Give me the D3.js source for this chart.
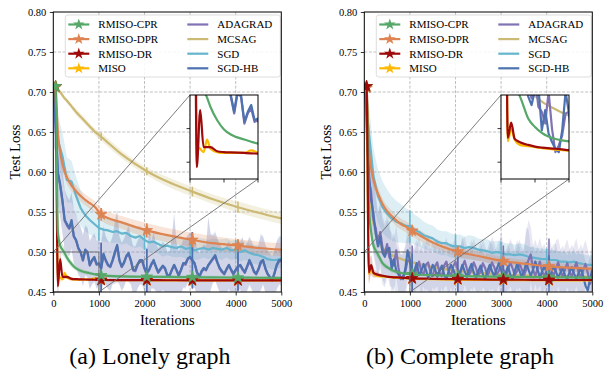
<!DOCTYPE html>
<html>
<head>
<meta charset="utf-8">
<script src="https://cdn.jsdelivr.net/npm/d3@7"></script>
<style>
  body { margin: 0; background: #fff; }
  text { font-family: "Liberation Serif", "Times New Roman", "DejaVu Serif", serif; fill: #000; }
</style>
</head>
<body>
<svg id="chart" width="604" height="379"></svg>
<script>
// ---- data -------------------------------------------------------------
const xTicks = [0, 1000, 2000, 3000, 4000, 5000];
const yTicks = [0.45, 0.50, 0.55, 0.60, 0.65, 0.70, 0.75, 0.80];
const markIters = [50, 1050, 2050, 3050, 4050];

const fineIters = d3.range(0, 5001, 50);      // noisy runs, logged every 50 its
const sgdIters = d3.range(0, 5001, 100);
const coarseIters = [0, 50, 100, 150, 200, 250, 300, 400, 500, 600, 800, 900,
  1050, 1500, 2050, 2500, 3050, 3500, 4050, 4500, 5000];

// (a) Lonely graph
const lonelyCpr = [0.710, 0.707, 0.525, 0.508, 0.503, 0.4985, 0.493, 0.485, 0.4795, 0.4765, 0.4735,
  0.4722, 0.4707, 0.4695, 0.4690, 0.4688, 0.4685, 0.4683, 0.4680, 0.4678, 0.4675];
const lonelyCprStd = [0.002, 0.003, 0.015, 0.01, 0.007, 0.006, 0.005, 0.004, 0.003, 0.003, 0.002,
  0.002, 0.002, 0.002, 0.002, 0.002, 0.002, 0.002, 0.002, 0.002, 0.002];
const lonelyDpr = [0.710, 0.706, 0.650, 0.625, 0.610, 0.600, 0.593, 0.583, 0.576, 0.570, 0.561,
  0.557, 0.547, 0.537, 0.527, 0.521, 0.515, 0.511, 0.508, 0.505, 0.503];
const lonelyDprStd = [0.002, 0.003, 0.012, 0.01, 0.009, 0.008, 0.008, 0.007, 0.007, 0.007, 0.007,
  0.007, 0.008, 0.008, 0.009, 0.009, 0.009, 0.009, 0.008, 0.008, 0.008];
const lonelyDr = [0.710, 0.707, 0.457, 0.491, 0.469, 0.469, 0.469, 0.4665, 0.466, 0.4658, 0.4655,
  0.4653, 0.465, 0.4649, 0.4648, 0.4647, 0.4646, 0.4646, 0.4645, 0.4645, 0.4645];
const lonelyDrStd = [0.002, 0.004, 0.012, 0.01, 0.004, 0.003, 0.002, 0.002, 0.001, 0.001, 0.001,
  0.001, 0.001, 0.001, 0.001, 0.001, 0.001, 0.001, 0.001, 0.001, 0.001];
const lonelyMiso = [0.710, 0.707, 0.470, 0.468, 0.466, 0.4735, 0.468, 0.466, 0.4655, 0.4655, 0.4655,
  0.467, 0.465, 0.4648, 0.4647, 0.4646, 0.4645, 0.4645, 0.4644, 0.4644, 0.4644];
const lonelyMisoStd = [0.002, 0.004, 0.008, 0.005, 0.003, 0.003, 0.002, 0.002, 0.001, 0.001, 0.001,
  0.001, 0.001, 0.001, 0.001, 0.001, 0.001, 0.001, 0.001, 0.001, 0.001];
const lonelyMcsag = [0.710, 0.707, 0.703, 0.700, 0.696, 0.692, 0.689, 0.682, 0.675, 0.669, 0.657,
  0.651, 0.644, 0.622, 0.601, 0.588, 0.5755, 0.566, 0.556, 0.549, 0.542];
const lonelyMcsagStd = [0.001, 0.002, 0.002, 0.003, 0.003, 0.003, 0.003, 0.003, 0.004, 0.004, 0.004,
  0.004, 0.005, 0.005, 0.005, 0.006, 0.006, 0.006, 0.007, 0.007, 0.007];
const lonelySgd = [0.710, 0.640, 0.620, 0.590, 0.588, 0.570, 0.555, 0.546, 0.540, 0.535,
  0.530, 0.528, 0.527, 0.525, 0.526, 0.523, 0.524, 0.520, 0.518, 0.520,
  0.515, 0.512, 0.513, 0.510, 0.507, 0.508, 0.506, 0.505, 0.507, 0.504,
  0.505, 0.502, 0.504, 0.505, 0.503, 0.505, 0.504, 0.503, 0.505, 0.502,
  0.503, 0.500, 0.502, 0.499, 0.497, 0.496, 0.494, 0.491, 0.490, 0.490, 0.492];
const lonelySgdStd = [0.003, 0.03, 0.03, 0.028, 0.026, 0.024, 0.022, 0.02, 0.018, 0.017,
  0.016, 0.015, 0.015, 0.014, 0.014, 0.014, 0.013, 0.013, 0.013, 0.013,
  0.012, 0.013, 0.012, 0.012, 0.013, 0.012, 0.012, 0.012, 0.013, 0.012,
  0.012, 0.012, 0.013, 0.012, 0.012, 0.012, 0.012, 0.013, 0.012, 0.012,
  0.012, 0.012, 0.012, 0.011, 0.012, 0.012, 0.011, 0.011, 0.012, 0.011, 0.011];
const lonelySgdHb = [0.710, 0.660, 0.600, 0.585, 0.565, 0.540, 0.535, 0.530, 0.540, 0.520,
  0.515, 0.505, 0.500, 0.490, 0.503, 0.500, 0.484, 0.490, 0.494, 0.485,
  0.486, 0.480, 0.498, 0.490, 0.484, 0.482, 0.490, 0.500, 0.509, 0.490,
  0.482, 0.487, 0.495, 0.499, 0.490, 0.478, 0.4775, 0.485, 0.490, 0.490,
  0.480, 0.474, 0.478, 0.485, 0.490, 0.482, 0.475, 0.479, 0.483, 0.480,
  0.471, 0.471, 0.478, 0.484, 0.478, 0.471, 0.478, 0.486, 0.486, 0.492,
  0.494, 0.490, 0.486, 0.475, 0.469, 0.476, 0.480, 0.478, 0.484, 0.488,
  0.492, 0.496, 0.487, 0.480, 0.476, 0.473, 0.479, 0.484, 0.478, 0.473,
  0.478, 0.482, 0.484, 0.479, 0.475, 0.482, 0.490, 0.484, 0.476, 0.473,
  0.479, 0.488, 0.490, 0.480, 0.473, 0.469, 0.465, 0.474, 0.484, 0.490, 0.490];
const lonelyAdagrad = [0.709, 0.657, 0.598, 0.583, 0.563, 0.539, 0.533, 0.529, 0.538, 0.519,
  0.514, 0.504, 0.499, 0.489, 0.501, 0.499, 0.483, 0.489, 0.492, 0.484,
  0.485, 0.479, 0.496, 0.489, 0.483, 0.481, 0.489, 0.498, 0.507, 0.489,
  0.481, 0.486, 0.494, 0.497, 0.489, 0.477, 0.476, 0.484, 0.489, 0.488,
  0.479, 0.473, 0.477, 0.484, 0.488, 0.481, 0.474, 0.478, 0.482, 0.479,
  0.470, 0.470, 0.477, 0.483, 0.477, 0.470, 0.477, 0.485, 0.484, 0.491,
  0.493, 0.489, 0.485, 0.474, 0.468, 0.475, 0.479, 0.477, 0.483, 0.487,
  0.491, 0.494, 0.486, 0.479, 0.475, 0.472, 0.478, 0.483, 0.477, 0.472,
  0.477, 0.481, 0.483, 0.478, 0.474, 0.481, 0.488, 0.483, 0.475, 0.472,
  0.478, 0.486, 0.489, 0.479, 0.472, 0.468, 0.464, 0.473, 0.483, 0.488, 0.489];
const lonelyNoisyStd = [0.003, 0.03, 0.04, 0.04, 0.04, 0.038, 0.036, 0.035, 0.035, 0.034,
  0.033, 0.033, 0.032, 0.032, 0.031, 0.031, 0.03, 0.03, 0.03, 0.03,
  0.03, 0.032, 0.035, 0.03, 0.03, 0.03, 0.03, 0.038, 0.045, 0.03,
  0.03, 0.03, 0.03, 0.035, 0.03, 0.03, 0.03, 0.03, 0.03, 0.03,
  0.03, 0.03, 0.045, 0.03, 0.035, 0.03, 0.03, 0.03, 0.03, 0.03,
  0.03, 0.03, 0.04, 0.065, 0.035, 0.03, 0.03, 0.03, 0.03, 0.03,
  0.03, 0.035, 0.03, 0.03, 0.03, 0.03, 0.03, 0.03, 0.06, 0.035,
  0.03, 0.03, 0.03, 0.03, 0.03, 0.03, 0.03, 0.03, 0.03, 0.03,
  0.03, 0.03, 0.03, 0.04, 0.03, 0.03, 0.03, 0.03, 0.03, 0.03,
  0.03, 0.035, 0.03, 0.03, 0.03, 0.03, 0.03, 0.03, 0.03, 0.03, 0.03];

// (b) Complete graph
const completeCpr = [0.710, 0.707, 0.560, 0.525, 0.508, 0.502, 0.497, 0.486, 0.481, 0.4775, 0.4738,
  0.473, 0.4722, 0.471, 0.470, 0.4695, 0.469, 0.4688, 0.4685, 0.4683, 0.468];
const completeCprStd = [0.002, 0.003, 0.015, 0.01, 0.007, 0.006, 0.005, 0.004, 0.003, 0.003, 0.002,
  0.002, 0.002, 0.002, 0.002, 0.002, 0.002, 0.002, 0.002, 0.002, 0.002];
const completeDpr = [0.710, 0.705, 0.628, 0.605, 0.590, 0.580, 0.573, 0.560, 0.551, 0.545, 0.535,
  0.532, 0.5265, 0.512, 0.5005, 0.495, 0.4885, 0.4855, 0.482, 0.4805, 0.479];
const completeDprStd = [0.002, 0.003, 0.012, 0.01, 0.009, 0.008, 0.008, 0.007, 0.007, 0.007, 0.007,
  0.007, 0.007, 0.006, 0.006, 0.006, 0.005, 0.005, 0.005, 0.005, 0.005];
const completeDr = [0.710, 0.707, 0.4745, 0.4835, 0.474, 0.4725, 0.4715, 0.4703, 0.4693, 0.4687, 0.468,
  0.4676, 0.467, 0.4665, 0.466, 0.4657, 0.4655, 0.4653, 0.465, 0.465, 0.465];
const completeDrStd = [0.002, 0.004, 0.014, 0.012, 0.006, 0.004, 0.003, 0.002, 0.001, 0.001, 0.001,
  0.001, 0.001, 0.001, 0.001, 0.001, 0.001, 0.001, 0.001, 0.001, 0.001];
const completeMiso = [0.710, 0.707, 0.4725, 0.480, 0.4735, 0.471, 0.470, 0.4695, 0.469, 0.4683, 0.4675,
  0.4672, 0.4668, 0.466, 0.4655, 0.4652, 0.465, 0.4648, 0.4646, 0.4645, 0.4645];
const completeMisoStd = [0.002, 0.004, 0.008, 0.006, 0.003, 0.002, 0.002, 0.002, 0.001, 0.001, 0.001,
  0.001, 0.001, 0.001, 0.001, 0.001, 0.001, 0.001, 0.001, 0.001, 0.001];
const completeMcsag = [0.710, 0.660, 0.590, 0.555, 0.536, 0.523, 0.513, 0.505, 0.4995, 0.496, 0.4915,
  0.4895, 0.487, 0.481, 0.4765, 0.4738, 0.4718, 0.4706, 0.4698, 0.4692, 0.469];
const completeMcsagStd = [0.001, 0.004, 0.004, 0.004, 0.003, 0.003, 0.003, 0.003, 0.003, 0.003, 0.002,
  0.002, 0.002, 0.002, 0.002, 0.002, 0.002, 0.002, 0.002, 0.002, 0.002];
const completeSgd = [0.710, 0.650, 0.595, 0.570, 0.556, 0.548, 0.542, 0.538, 0.536, 0.533,
  0.532, 0.528, 0.525, 0.521, 0.519, 0.517, 0.513, 0.511, 0.511, 0.508,
  0.507, 0.507, 0.505, 0.506, 0.505, 0.503, 0.502, 0.501, 0.499, 0.500,
  0.499, 0.497, 0.497, 0.496, 0.497, 0.496, 0.494, 0.493, 0.492, 0.491,
  0.491, 0.490, 0.490, 0.488, 0.488, 0.487, 0.488, 0.486, 0.485, 0.484, 0.484];
const completeSgdStd = [0.003, 0.035, 0.035, 0.033, 0.032, 0.03, 0.028, 0.026, 0.024, 0.022,
  0.02, 0.019, 0.018, 0.017, 0.016, 0.016, 0.015, 0.015, 0.015, 0.015,
  0.015, 0.015, 0.014, 0.015, 0.015, 0.014, 0.014, 0.015, 0.014, 0.014,
  0.014, 0.014, 0.014, 0.013, 0.014, 0.014, 0.013, 0.013, 0.013, 0.013,
  0.013, 0.013, 0.012, 0.012, 0.012, 0.012, 0.012, 0.012, 0.012, 0.012, 0.012];
const completeSgdHb = [0.710, 0.680, 0.600, 0.565, 0.548, 0.523, 0.507, 0.519, 0.499, 0.494,
  0.503, 0.505, 0.479, 0.491, 0.477, 0.472, 0.468, 0.466, 0.479, 0.502,
  0.489, 0.468, 0.477, 0.486, 0.471, 0.476, 0.485, 0.478, 0.468, 0.474,
  0.484, 0.479, 0.469, 0.476, 0.483, 0.472, 0.466, 0.476, 0.484, 0.478,
  0.470, 0.465, 0.475, 0.484, 0.476, 0.469, 0.478, 0.485, 0.474, 0.468,
  0.476, 0.483, 0.472, 0.466, 0.476, 0.484, 0.476, 0.470, 0.478, 0.486,
  0.478, 0.466, 0.474, 0.482, 0.472, 0.466, 0.476, 0.485, 0.477, 0.469,
  0.476, 0.486, 0.478, 0.470, 0.478, 0.488, 0.478, 0.468, 0.476, 0.482,
  0.473, 0.466, 0.474, 0.482, 0.476, 0.468, 0.474, 0.480, 0.471, 0.466,
  0.475, 0.481, 0.473, 0.466, 0.474, 0.480, 0.470, 0.458, 0.452, 0.466, 0.478];
const completeAdagrad = [0.710, 0.670, 0.590, 0.575, 0.540, 0.530, 0.510, 0.525, 0.505, 0.498,
  0.510, 0.493, 0.490, 0.483, 0.502, 0.480, 0.466, 0.470, 0.476, 0.489,
  0.490, 0.478, 0.470, 0.480, 0.488, 0.475, 0.472, 0.484, 0.487, 0.475,
  0.470, 0.482, 0.487, 0.474, 0.470, 0.483, 0.488, 0.476, 0.470, 0.482,
  0.488, 0.477, 0.472, 0.481, 0.489, 0.479, 0.471, 0.478, 0.487, 0.480,
  0.471, 0.476, 0.486, 0.480, 0.470, 0.477, 0.487, 0.481, 0.472, 0.476,
  0.486, 0.478, 0.470, 0.477, 0.487, 0.480, 0.471, 0.476, 0.486, 0.479,
  0.470, 0.478, 0.490, 0.497, 0.478, 0.470, 0.480, 0.488, 0.476, 0.469,
  0.478, 0.487, 0.478, 0.470, 0.479, 0.487, 0.477, 0.469, 0.478, 0.486,
  0.476, 0.469, 0.479, 0.487, 0.475, 0.468, 0.477, 0.485, 0.474, 0.460, 0.470];
const completeNoisyStd = [0.003, 0.03, 0.04, 0.045, 0.045, 0.045, 0.04, 0.04, 0.04, 0.038,
  0.036, 0.035, 0.034, 0.033, 0.032, 0.03, 0.03, 0.03, 0.03, 0.03,
  0.03, 0.03, 0.032, 0.03, 0.03, 0.03, 0.028, 0.03, 0.035, 0.03,
  0.028, 0.028, 0.03, 0.03, 0.028, 0.028, 0.03, 0.03, 0.028, 0.03,
  0.03, 0.028, 0.03, 0.035, 0.03, 0.028, 0.028, 0.03, 0.03, 0.028,
  0.028, 0.03, 0.03, 0.028, 0.028, 0.03, 0.033, 0.03, 0.028, 0.028,
  0.04, 0.03, 0.028, 0.028, 0.03, 0.03, 0.028, 0.03, 0.03, 0.028,
  0.03, 0.045, 0.05, 0.035, 0.03, 0.028, 0.028, 0.03, 0.03, 0.028,
  0.028, 0.03, 0.03, 0.028, 0.035, 0.03, 0.028, 0.028, 0.03, 0.03,
  0.028, 0.028, 0.03, 0.03, 0.028, 0.03, 0.03, 0.03, 0.03, 0.03, 0.03];

const names = ["RMISO-CPR", "RMISO-DPR", "RMISO-DR", "MISO", "ADAGRAD", "MCSAG", "SGD", "SGD-HB"];
const colors = {
  "RMISO-CPR": "#55a868", "RMISO-DPR": "#dd8452", "RMISO-DR": "#9e0a0a", "MISO": "#ffb800",
  "ADAGRAD": "#8172b3", "MCSAG": "#ccb974", "SGD": "#64b5cd", "SGD-HB": "#4c72b0"
};
const bandAlpha = { "ADAGRAD": 0.17, "SGD-HB": 0.15 };
const starred = ["RMISO-CPR", "RMISO-DPR", "RMISO-DR", "MISO"];

// ---- drawing ----------------------------------------------------------
const svg = d3.select("#chart");
const defs = svg.append("defs");
const plotW = 228, plotTop = 12, plotBottom = 292;
const smooth = d3.curveMonotoneX, sharp = d3.curveLinear;

function zip(xs, ys, sds) {
  return xs.map((v, i) => [v, ys[i], sds[i]]);
}

function drawPanel(p) {
  const x = d3.scaleLinear().domain([0, 5000]).range([p.left, p.left + plotW]);
  const y = d3.scaleLinear().domain([0.45, 0.80]).range([plotBottom, plotTop]);
  const g = svg.append("g");

  defs.append("clipPath").attr("id", "clip-" + p.id)
    .append("rect").attr("x", p.left).attr("y", plotTop)
    .attr("width", plotW).attr("height", plotBottom - plotTop);

  // grid
  g.selectAll(".gx").data(xTicks.slice(1, -1)).join("line")
    .attr("x1", d => x(d)).attr("x2", d => x(d))
    .attr("y1", plotTop).attr("y2", plotBottom)
    .attr("stroke", "#b0b0b0").attr("stroke-width", 0.8).attr("stroke-dasharray", "3,1.6");
  g.selectAll(".gy").data(yTicks.slice(1, -1)).join("line")
    .attr("y1", d => y(d)).attr("y2", d => y(d))
    .attr("x1", p.left).attr("x2", p.left + plotW)
    .attr("stroke", "#b0b0b0").attr("stroke-width", 0.8).attr("stroke-dasharray", "3,1.6");

  function drawSeries(target, xs, ys, clipId, full) {
    const layer = target.append("g").attr("clip-path", `url(#${clipId})`);
    // shaded std bands first (main axes only)
    if (full) {
      p.series.forEach(s => {
        const area = d3.area().curve(s.curve)
          .x(d => xs(d[0])).y0(d => ys(d[1] - d[2])).y1(d => ys(d[1] + d[2]));
        layer.append("path").datum(zip(s.x, s.y, s.sd))
          .attr("d", area).attr("fill", colors[s.name])
          .attr("fill-opacity", bandAlpha[s.name] || 0.22);
      });
    }
    p.series.forEach(s => {
      const c = colors[s.name];
      const line = d3.line().curve(s.curve).x(d => xs(d[0])).y(d => ys(d[1]));
      layer.append("path").datum(zip(s.x, s.y, s.sd))
        .attr("d", line).attr("fill", "none").attr("stroke", c)
        .attr("stroke-width", 2.2).attr("stroke-linejoin", "round");
      if (!full) return;
      const idx = markIters.map(m => d3.leastIndex(s.x, v => Math.abs(v - m)));
      layer.selectAll(null).data(idx).join("line")
        .attr("x1", i => xs(s.x[i])).attr("x2", i => xs(s.x[i]))
        .attr("y1", i => ys(s.y[i] - s.sd[i])).attr("y2", i => ys(s.y[i] + s.sd[i]))
        .attr("stroke", c).attr("stroke-width", 1.5);
      if (starred.includes(s.name)) {
        layer.selectAll(null).data(idx).join("path")
          .attr("d", d3.symbol(d3.symbolStar, 42))
          .attr("transform", i => `translate(${xs(s.x[i])},${ys(s.y[i])})`)
          .attr("fill", c).attr("stroke", c).attr("stroke-width", 0.8);
      }
    });
  }
  drawSeries(g, x, y, "clip-" + p.id, true);

  // inset
  const ix = d3.scaleLinear().domain([0, 1000]).range([p.insetLeft, p.insetLeft + 68]);
  const iy = d3.scaleLinear().domain([0.45, 0.50]).range([179, 95]);

  // zoom box and connectors on the main axes
  g.append("rect").attr("x", x(0)).attr("y", y(0.50))
    .attr("width", x(1000) - x(0)).attr("height", y(0.45) - y(0.50))
    .attr("fill", "none").attr("stroke", "#6e6e6e").attr("stroke-width", 0.9);
  g.append("line").attr("x1", x(0)).attr("y1", y(0.50)).attr("x2", ix(0)).attr("y2", iy(0.50))
    .attr("stroke", "#6e6e6e").attr("stroke-width", 0.9);
  g.append("line").attr("x1", x(1000)).attr("y1", y(0.45)).attr("x2", ix(1000)).attr("y2", iy(0.45))
    .attr("stroke", "#6e6e6e").attr("stroke-width", 0.9);

  // legend
  const lx = p.left + 12, ly = 15;
  const leg = g.append("g");
  leg.append("rect").attr("x", lx).attr("y", ly).attr("width", 215).attr("height", 62)
    .attr("rx", 2.5).attr("fill", "#fff").attr("fill-opacity", 0.85)
    .attr("stroke", "#d4d4d4").attr("stroke-width", 0.8);
  names.forEach((n, k) => {
    const col = Math.floor(k / 4), row = k % 4;
    const hx = lx + (col ? 122 : 3), hy = ly + 9.5 + row * 14.6;
    leg.append("line").attr("x1", hx).attr("x2", hx + 21).attr("y1", hy).attr("y2", hy)
      .attr("stroke", colors[n]).attr("stroke-width", 2.2);
    if (starred.includes(n)) {
      leg.append("path").attr("d", d3.symbol(d3.symbolStar, 42))
        .attr("transform", `translate(${hx + 10.5},${hy})`).attr("fill", colors[n]);
    }
    leg.append("text").attr("x", hx + 30).attr("y", hy).attr("dy", "0.35em")
      .attr("font-size", 11).text(n);
  });

  // frame and axes
  g.append("rect").attr("x", p.left).attr("y", plotTop).attr("width", plotW)
    .attr("height", plotBottom - plotTop).attr("fill", "none")
    .attr("stroke", "#000").attr("stroke-width", 1);
  const ax = g.append("g").attr("transform", `translate(0,${plotBottom})`)
    .call(d3.axisBottom(x).tickValues(xTicks).tickFormat(d3.format("d"))
      .tickSize(3.5).tickPadding(4));
  const ay = g.append("g").attr("transform", `translate(${p.left},0)`)
    .call(d3.axisLeft(y).tickValues(yTicks).tickFormat(d3.format(".2f"))
      .tickSize(3.5).tickPadding(3.5));
  [ax, ay].forEach(a => {
    a.select(".domain").remove();
    a.selectAll("text").attr("font-size", 10.5);
    a.selectAll("line").attr("stroke-width", 0.8);
  });

  g.append("text").attr("x", p.left + plotW / 2).attr("y", 325)
    .attr("text-anchor", "middle").attr("font-size", 14.5).text("Iterations");
  g.append("text").attr("transform", `translate(${p.left - 33},152) rotate(-90)`)
    .attr("text-anchor", "middle").attr("font-size", 14.5).text("Test Loss");
  g.append("text").attr("x", p.captionX).attr("y", 364)
    .attr("text-anchor", "middle").attr("font-size", 24).text(p.caption);

  // inset axes
  const ig = g.append("g");
  defs.append("clipPath").attr("id", "iclip-" + p.id)
    .append("rect").attr("x", ix(0)).attr("y", iy(0.50))
    .attr("width", ix(1000) - ix(0)).attr("height", iy(0.45) - iy(0.50));
  ig.append("rect").attr("x", ix(0)).attr("y", iy(0.50))
    .attr("width", ix(1000) - ix(0)).attr("height", iy(0.45) - iy(0.50)).attr("fill", "#fff");
  drawSeries(ig, ix, iy, "iclip-" + p.id, false);
  ig.append("rect").attr("x", ix(0)).attr("y", iy(0.50))
    .attr("width", ix(1000) - ix(0)).attr("height", iy(0.45) - iy(0.50))
    .attr("fill", "none").attr("stroke", "#000").attr("stroke-width", 1);
  ig.selectAll(".itx").data([0, 500, 1000]).join("line")
    .attr("x1", d => ix(d)).attr("x2", d => ix(d)).attr("y1", iy(0.45)).attr("y2", iy(0.45) + 3.5)
    .attr("stroke", "#000").attr("stroke-width", 0.8);
  ig.selectAll(".ity").data([0.46, 0.48]).join("line")
    .attr("y1", d => iy(d)).attr("y2", d => iy(d)).attr("x1", ix(0)).attr("x2", ix(0) - 3.5)
    .attr("stroke", "#000").attr("stroke-width", 0.8);
}

const lonelyPanel = {
  id: "lonely", left: 53.3, insetLeft: 190, captionX: 150, caption: "(a) Lonely graph",
  series: [
    { name: "MCSAG", x: coarseIters, y: lonelyMcsag, sd: lonelyMcsagStd, curve: smooth },
    { name: "SGD", x: sgdIters, y: lonelySgd, sd: lonelySgdStd, curve: sharp },
    { name: "ADAGRAD", x: fineIters, y: lonelyAdagrad, sd: lonelyNoisyStd, curve: sharp },
    { name: "SGD-HB", x: fineIters, y: lonelySgdHb, sd: lonelyNoisyStd, curve: sharp },
    { name: "RMISO-DPR", x: coarseIters, y: lonelyDpr, sd: lonelyDprStd, curve: smooth },
    { name: "MISO", x: coarseIters, y: lonelyMiso, sd: lonelyMisoStd, curve: smooth },
    { name: "RMISO-DR", x: coarseIters, y: lonelyDr, sd: lonelyDrStd, curve: smooth },
    { name: "RMISO-CPR", x: coarseIters, y: lonelyCpr, sd: lonelyCprStd, curve: smooth }
  ]
};
const completePanel = {
  id: "complete", left: 364.3, insetLeft: 501, captionX: 460, caption: "(b) Complete graph",
  series: [
    { name: "MCSAG", x: coarseIters, y: completeMcsag, sd: completeMcsagStd, curve: smooth },
    { name: "SGD", x: sgdIters, y: completeSgd, sd: completeSgdStd, curve: sharp },
    { name: "ADAGRAD", x: fineIters, y: completeAdagrad, sd: completeNoisyStd, curve: sharp },
    { name: "SGD-HB", x: fineIters, y: completeSgdHb, sd: completeNoisyStd, curve: sharp },
    { name: "RMISO-DPR", x: coarseIters, y: completeDpr, sd: completeDprStd, curve: smooth },
    { name: "MISO", x: coarseIters, y: completeMiso, sd: completeMisoStd, curve: smooth },
    { name: "RMISO-CPR", x: coarseIters, y: completeCpr, sd: completeCprStd, curve: smooth },
    { name: "RMISO-DR", x: coarseIters, y: completeDr, sd: completeDrStd, curve: smooth }
  ]
};

drawPanel(lonelyPanel);
drawPanel(completePanel);
</script>
</body>
</html>
